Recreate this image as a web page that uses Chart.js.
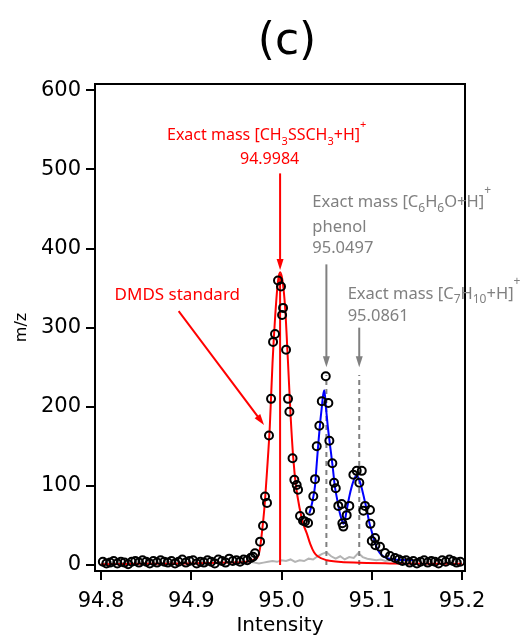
<!DOCTYPE html>
<html>
<head>
<meta charset="utf-8">
<script src="https://cdn.jsdelivr.net/npm/chart.js@4.4.1/dist/chart.umd.min.js"></script>
<style>
  html, body { margin: 0; padding: 0; background: #fff; }
</style>
</head>
<body>
<canvas id="chart" width="526" height="639"></canvas>
<script>
// open circles: measured spectrum
const scanMass = [
  94.802, 94.806, 94.810, 94.814, 94.818, 94.822, 94.826, 94.830, 94.834, 94.838,
  94.842, 94.846, 94.850, 94.854, 94.858, 94.862, 94.866, 94.870, 94.874, 94.878,
  94.882, 94.886, 94.890, 94.894, 94.898, 94.902, 94.906, 94.910, 94.914, 94.918,
  94.922, 94.926, 94.930, 94.934, 94.938, 94.942, 94.946, 94.950, 94.954, 94.958,
  94.962, 94.966,
  94.9684, 94.9706, 94.9762, 94.9795, 94.9817, 94.9839, 94.9861, 94.9884, 94.9906, 94.9928,
  94.9961, 94.9994, 95.0006, 95.0017, 95.0050, 95.0072, 95.0087, 95.0122, 95.0142, 95.0168,
  95.0183, 95.0205, 95.0238, 95.0260, 95.0294, 95.0316, 95.0352, 95.0371, 95.0390, 95.0419,
  95.0446, 95.0490, 95.0519, 95.0530, 95.0563, 95.0582, 95.0601, 95.0629, 95.0667, 95.0674,
  95.0685, 95.0722, 95.0751, 95.0796, 95.0833, 95.0862, 95.0889, 95.0907, 95.0925, 95.0980,
  95.0985, 95.1000, 95.1036, 95.1040, 95.1091, 95.1147, 95.1202, 95.1258,
  95.130, 95.134, 95.138, 95.142, 95.146, 95.150, 95.154, 95.158, 95.162, 95.166,
  95.170, 95.174, 95.178, 95.182, 95.186, 95.190, 95.194, 95.198
];
const scanInt = [
  4, 2, 3, 5, 2, 4, 3, 1, 4, 5,
  3, 6, 4, 2, 5, 3, 6, 4, 3, 5,
  2, 4, 7, 3, 5, 6, 2, 4, 3, 6,
  4, 2, 7, 5, 3, 8, 5, 6, 4, 7,
  6, 9,
  10.5, 14.8, 29.5, 49.7, 86.5, 78.5, 163.7, 210, 282, 292,
  359.5, 352, 316, 325, 272, 210, 193.7, 135, 107.6, 101,
  95, 62, 56, 55, 53, 68.7, 87, 108.5, 150, 176,
  207, 238.6, 204.7, 157, 128.7, 104, 97, 74.7, 77, 52.8,
  48.5, 63, 74.7, 114, 119, 104, 119, 68.7, 74.7, 69.6,
  52, 30.4, 34, 25, 23, 15, 11.4, 8.9,
  7, 5, 6, 3, 5, 2, 4, 6, 3, 5,
  4, 2, 6, 4, 7, 5, 3, 4
];

// red: DMDS standard fit
const redMass = [
  94.800, 94.850, 94.900, 94.940, 94.955, 94.962, 94.967, 94.971, 94.974, 94.976,
  94.978, 94.981, 94.984, 94.987, 94.990, 94.993, 94.996, 94.9984, 95.001, 95.004,
  95.007, 95.010, 95.013, 95.016, 95.020, 95.024, 95.028, 95.032, 95.036, 95.040,
  95.050, 95.060, 95.080, 95.120, 95.200
];
const redInt = [
  1, 1.5, 2, 3, 3.5, 4.5, 6, 8, 11, 20,
  38, 72, 120, 175, 255, 315, 358, 370, 360, 325,
  260, 190, 135, 100, 72, 52, 40, 26, 16, 11,
  6, 4.5, 3, 2, 1.5
];

// blue: two-peak fit
const blueMass = [
  95.0308, 95.0330, 95.0350, 95.0371, 95.0390, 95.0408, 95.0428, 95.0445, 95.0460, 95.0474,
  95.0493, 95.0510, 95.0530, 95.0550, 95.0567, 95.0590, 95.0618, 95.0645, 95.0668, 95.0685,
  95.0700, 95.0720, 95.0750, 95.0780, 95.0810, 95.0833, 95.0860, 95.0889, 95.0920, 95.0944,
  95.0970, 95.1000, 95.1030, 95.1055, 95.1090, 95.1128, 95.1170, 95.1250, 95.1350, 95.1460
];
const blueInt = [
  65, 74, 85, 100, 128, 154, 180, 198, 214, 221,
  198, 178, 158, 140, 124, 100, 82, 66, 57, 52,
  55, 68, 86, 100, 110, 113, 108, 97, 82, 70,
  55, 42, 30, 22, 15, 11, 8.5, 7, 6.3, 6.3
];

// grey: background trace
const greyMass = [
  94.800, 94.805, 94.810, 94.815, 94.820, 94.825, 94.830, 94.835, 94.840, 94.845,
  94.850, 94.855, 94.860, 94.865, 94.870, 94.875, 94.880, 94.885, 94.890, 94.895,
  94.900, 94.905, 94.910, 94.915, 94.920, 94.925, 94.930, 94.935, 94.940, 94.945,
  94.950, 94.955, 94.960, 94.965, 94.970, 94.975, 94.980, 94.985, 94.990, 94.995,
  95.000, 95.005, 95.010, 95.015, 95.020, 95.025, 95.030, 95.035, 95.040, 95.045,
  95.050, 95.055, 95.060, 95.065, 95.070, 95.075, 95.080, 95.085, 95.090, 95.095,
  95.100, 95.105, 95.110, 95.115, 95.120, 95.125, 95.130, 95.135, 95.140, 95.145,
  95.150, 95.155, 95.160, 95.165, 95.170, 95.175, 95.180, 95.185, 95.190, 95.195,
  95.200
];
const greyInt = [
  3, 2, 4, 3, 2, 3, 4, 2, 3, 3,
  2, 4, 3, 2, 3, 4, 3, 2, 4, 3,
  3, 2, 4, 3, 2, 3, 4, 2, 3, 3,
  4, 2, 3, 4, 3, 2, 3, 4, 5, 4,
  6, 5, 7, 4, 6, 5, 8, 7, 11, 14,
  16, 11, 8, 11, 7, 10, 9, 15, 10, 8,
  7, 6, 7, 5, 6, 5, 4, 6, 5, 4,
  5, 6, 4, 5, 6, 4, 5, 4, 6, 5,
  4
];

const exactMass = [94.9984, 95.0497, 95.0861];
const stickTop = 368;
const markerTop = 240;

const xTicks = [94.8, 94.9, 95.0, 95.1, 95.2];
const yTicks = [0, 100, 200, 300, 400, 500, 600];

const RED = '#ff0000';
const GREY = '#808080';
const FONT = '"DejaVu Sans", sans-serif';
const LABEL_FONT = '"Noto Sans", sans-serif';

const pts = (xs, ys) => xs.map((v, i) => ({ x: v, y: ys[i] }));

function richText(ctx, parts, x, y, color, size) {
  ctx.fillStyle = color;
  ctx.textAlign = 'left';
  ctx.textBaseline = 'alphabetic';
  let cx = x;
  for (const [txt, kind] of parts) {
    const s = kind ? Math.round(size * 0.7) : size;
    ctx.font = s + 'px ' + LABEL_FONT;
    const dy = kind === 'sub' ? size * 0.28 : kind === 'sup' ? -size * 0.8 : 0;
    ctx.fillText(txt, cx, y + dy);
    cx += ctx.measureText(txt).width;
  }
}

function arrow(ctx, x1, y1, x2, y2, color) {
  const ang = Math.atan2(y2 - y1, x2 - x1);
  const len = 11, half = 3.5;
  ctx.strokeStyle = color;
  ctx.fillStyle = color;
  ctx.lineWidth = 2;
  ctx.setLineDash([]);
  ctx.beginPath();
  ctx.moveTo(x1, y1);
  ctx.lineTo(x2 - Math.cos(ang) * len * 0.6, y2 - Math.sin(ang) * len * 0.6);
  ctx.stroke();
  ctx.beginPath();
  ctx.moveTo(x2, y2);
  ctx.lineTo(x2 - Math.cos(ang) * len - Math.sin(ang) * half, y2 - Math.sin(ang) * len + Math.cos(ang) * half);
  ctx.lineTo(x2 - Math.cos(ang) * len + Math.sin(ang) * half, y2 - Math.sin(ang) * len - Math.cos(ang) * half);
  ctx.closePath();
  ctx.fill();
}

const overlay = {
  id: 'overlay',
  afterDraw(chart) {
    const { ctx, chartArea: a, scales: { x, y } } = chart;
    ctx.save();

    // frame
    ctx.strokeStyle = '#000';
    ctx.lineWidth = 2;
    ctx.strokeRect(a.left, a.top, a.right - a.left, a.bottom - a.top);

    // panel title
    ctx.fillStyle = '#000';
    ctx.font = '44px ' + FONT;
    ctx.textAlign = 'center';
    ctx.textBaseline = 'alphabetic';
    ctx.fillText('(c)', 287, 54);

    const px = v => x.getPixelForValue(v);
    const py = v => y.getPixelForValue(v);

    // DMDS exact mass
    richText(ctx, [['Exact mass [CH', ''], ['3', 'sub'], ['SSCH', ''], ['3', 'sub'], ['+H]', ''], ['+', 'sup']],
      px(94.8731), py(536.7), RED, 16);
    richText(ctx, [['94.9984', '']], px(94.954), py(506.3), RED, 16);
    arrow(ctx, px(exactMass[0]), py(495), px(exactMass[0]), py(373), RED);

    // DMDS standard
    richText(ctx, [['DMDS standard', '']], px(94.8150), py(335), RED, 17);
    arrow(ctx, px(94.8860), py(321), px(94.9806), py(177), RED);

    // phenol
    richText(ctx, [['Exact mass [C', ''], ['6', 'sub'], ['H', ''], ['6', 'sub'], ['O+H]', ''], ['+', 'sup']],
      px(95.0341), py(451.9), GREY, 16.5);
    richText(ctx, [['phenol', '']], px(95.0341), py(420.3), GREY, 16.5);
    richText(ctx, [['95.0497', '']], px(95.0341), py(395), GREY, 16.5);
    arrow(ctx, px(exactMass[1]), py(380), px(exactMass[1]), py(250), GREY);

    // C7H10
    richText(ctx, [['Exact mass [C', ''], ['7', 'sub'], ['H', ''], ['10', 'sub'], ['+H]', ''], ['+', 'sup']],
      px(95.0733), py(336.7), GREY, 16.5);
    richText(ctx, [['95.0861', '']], px(95.0733), py(308), GREY, 16.5);
    arrow(ctx, px(exactMass[2]), py(300), px(exactMass[2]), py(250), GREY);

    ctx.restore();
  }
};

new Chart(document.getElementById('chart'), {
  type: 'scatter',
  data: {
    datasets: [
      {
        label: 'measured',
        data: pts(scanMass, scanInt),
        showLine: false,
        pointStyle: 'circle',
        pointRadius: 4,
        pointBorderWidth: 2,
        pointBorderColor: '#000',
        pointBackgroundColor: 'rgba(0,0,0,0)'
      },
      {
        label: 'fit',
        data: pts(blueMass, blueInt),
        showLine: true,
        borderColor: '#0000ff',
        borderWidth: 2,
        pointRadius: 0,
        cubicInterpolationMode: 'monotone'
      },
      {
        label: 'DMDS standard',
        data: pts(redMass, redInt),
        showLine: true,
        borderColor: RED,
        borderWidth: 2,
        pointRadius: 0,
        cubicInterpolationMode: 'monotone'
      },
      {
        label: 'stick',
        data: [{ x: exactMass[0], y: 0 }, { x: exactMass[0], y: stickTop }],
        showLine: true,
        borderColor: RED,
        borderWidth: 2,
        pointRadius: 0
      },
      {
        label: 'phenol marker',
        data: [{ x: exactMass[1], y: 0 }, { x: exactMass[1], y: markerTop }],
        showLine: true,
        borderColor: GREY,
        borderWidth: 2,
        borderDash: [5, 4],
        pointRadius: 0
      },
      {
        label: 'C7H10 marker',
        data: [{ x: exactMass[2], y: 0 }, { x: exactMass[2], y: markerTop }],
        showLine: true,
        borderColor: GREY,
        borderWidth: 2,
        borderDash: [5, 4],
        pointRadius: 0
      },
      {
        label: 'background',
        data: pts(greyMass, greyInt),
        showLine: true,
        borderColor: '#b4b4b4',
        borderWidth: 2,
        pointRadius: 0
      }
    ]
  },
  options: {
    responsive: false,
    animation: false,
    layout: { padding: { top: 84, right: 61, left: 0, bottom: 0 } },
    plugins: { legend: { display: false }, tooltip: { enabled: false } },
    scales: {
      x: {
        type: 'linear',
        min: 94.7933,
        max: 95.2033,
        afterFit: s => { s.height = 68; },
        afterBuildTicks: s => { s.ticks = xTicks.map(v => ({ value: v })); },
        border: { display: false },
        grid: { drawOnChartArea: false, drawTicks: true, tickLength: 9, color: '#000', lineWidth: 2 },
        ticks: {
          color: '#000',
          padding: 9,
          maxRotation: 0,
          font: { family: FONT, size: 21 },
          callback: v => v.toFixed(1)
        },
        title: { display: true, text: 'Intensity', color: '#000', font: { family: FONT, size: 20 }, padding: { top: 0, bottom: 1 } }
      },
      y: {
        type: 'linear',
        min: -7.6,
        max: 608,
        afterFit: s => { s.width = 95; },
        afterBuildTicks: s => { s.ticks = yTicks.map(v => ({ value: v })); },
        border: { display: false },
        grid: { drawOnChartArea: false, drawTicks: true, tickLength: 9, color: '#000', lineWidth: 2 },
        ticks: { color: '#000', padding: 5, font: { family: FONT, size: 21 } },
        title: { display: true, text: 'm/z', color: '#000', font: { family: FONT, size: 16 }, padding: { top: 12, bottom: 0 } }
      }
    }
  },
  plugins: [overlay]
});
</script>
</body>
</html>
